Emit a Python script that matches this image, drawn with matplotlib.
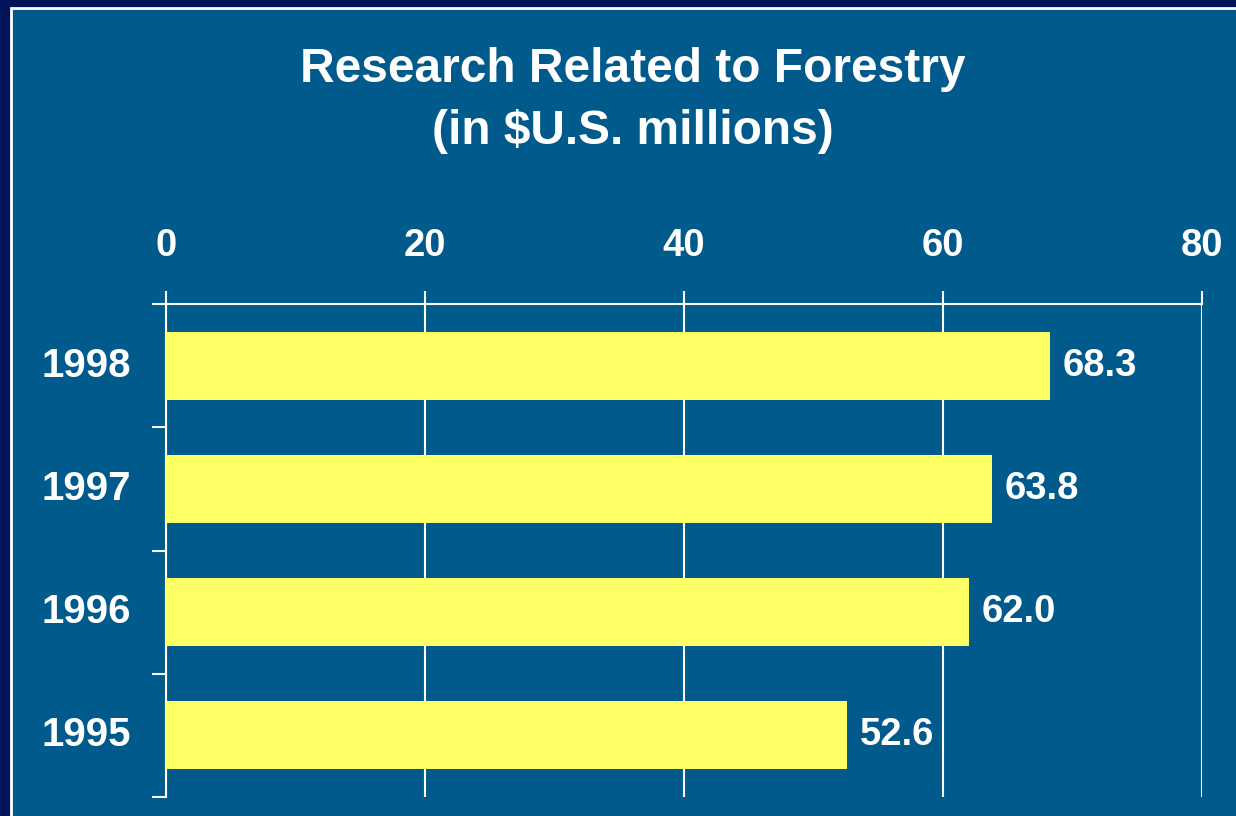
import matplotlib.pyplot as plt
from matplotlib.patches import Rectangle

years = ['1995', '1996', '1997', '1998']
values = [52.6, 62.0, 63.8, 68.3]
x_ticks = [0, 20, 40, 60, 80]

BG = '#005A8C'
NAVY = '#001459'
BAR = '#FFFF66'

plt.rcParams['font.family'] = ['Liberation Sans', 'DejaVu Sans']
plt.rcParams['font.weight'] = 'bold'

fig = plt.figure(figsize=(12.36, 8.16), dpi=100, facecolor=NAVY)
W, H = 1236, 816
frame = Rectangle((11 / W, -0.05), 1.1, 1 - 8 / H + 0.05,
                  transform=fig.transFigure, facecolor=BG,
                  edgecolor='white', linewidth=2, zorder=-5)
fig.patches.append(frame)

ax = fig.add_axes([166 / W, 1 - 797 / H, (1202 - 166) / W, (797 - 304) / H])
ax.patch.set_alpha(0)

pos = list(range(len(years)))
bars = ax.barh(pos, values, height=0.55, color=BAR, zorder=3)
ax.bar_label(bars, labels=[f'{v:.1f}' for v in values], padding=9,
             color='white', fontsize=27.5, fontweight='bold')

ax.set_xlim(0, 80)
ax.set_ylim(-0.5, len(years) - 0.5)
ax.set_xticks(x_ticks)
ax.xaxis.tick_top()
ax.tick_params(axis='x', length=9.5, width=1.5, color='white', pad=19,
               labelsize=27.5, labelcolor='white')
ax.grid(axis='x', color='white', linewidth=1.5, zorder=1)

# category labels sit between boundary ticks
ax.set_yticks([p - 0.5 for p in pos] + [pos[-1] + 0.5])
ax.set_yticklabels([])
ax.tick_params(axis='y', length=10, width=1.5, color='white')
for p, y in zip(pos, years):
    ax.text(-2.7, p, y, ha='right', va='center', color='white',
            fontsize=29, fontweight='bold')

for s in ['right', 'bottom']:
    ax.spines[s].set_visible(False)
for s in ['left', 'top']:
    ax.spines[s].set_color('white')
    ax.spines[s].set_linewidth(1.5)

fig.text(633 / W, 1 - 69 / H, 'Research Related to Forestry',
         ha='center', va='center', color='white', fontsize=34.5, fontweight='bold')
fig.text(633 / W, 1 - 131 / H, '(in $U.S. millions)',
         ha='center', va='center', color='white', fontsize=34.5, fontweight='bold')

fig.savefig('out.png', dpi=100, facecolor=NAVY)
